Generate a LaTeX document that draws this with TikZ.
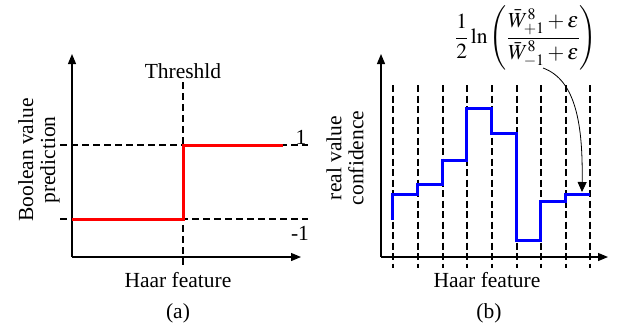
\documentclass[tikz,border=0pt]{standalone}
\usepackage{mathptmx}
\usepackage{fontspec}
\setmainfont{Liberation Serif}
\usetikzlibrary{arrows.meta}
\begin{document}
\begin{tikzpicture}[x=1pt,y=-1pt,
  font=\fontsize{21.5}{22}\selectfont,
  axis/.style={line width=1.2pt,-{Triangle[length=10pt,width=8pt]}},
  guide/.style={line width=1.1pt,dash pattern=on 7pt off 4pt},
  guideb/.style={line width=1.8pt,dash pattern=on 7pt off 3.5pt},
  redcurve/.style={red,line width=3pt},
  bluecurve/.style={blue,line width=3pt},
  lbl/.style={inner sep=0pt},
  pointer/.style={line width=0.8pt,-{Triangle[length=10pt,width=9pt]}}]
\useasboundingbox (0,0) rectangle (617,327);
% ---------- panel (a) ----------
\draw[guide] (183,82) -- (183,268);
\draw[guide] (60,145) -- (308,145);
\draw[guide] (60,219) -- (308,219);
\draw[axis] (72,257) -- (72,54);
\draw[axis] (72,257) -- (301,257);
\draw[redcurve] (72,219) -- (183,219) -- (183,145) -- (283,145);
\node[lbl] (thr) at (183,71) {Threshld};
\node[lbl] (one) at (301,137) {1};
\node[lbl] (mone) at (300,233) {-1};
\node[lbl,rotate=90,align=center] (ylabA) at (39,160) {Boolean value\\prediction};
\node[lbl] (xlabA) at (178,280) {Haar feature};
\node[lbl] (capA) at (178,313) {(a)};
% ---------- panel (b) ----------
\foreach \xx in {392.7,417.7,442.7,466.7,491.7,516.7,540.7,565.7,590}
  \draw[guideb] (\xx,85) -- (\xx,268);
\draw[axis] (381,257) -- (381,54);
\draw[axis] (381,257) -- (608,257);
\draw[bluecurve] (392.7,220) -- (392.7,194) -- (417.7,194) -- (417.7,184)
  -- (442.7,184) -- (442.7,160) -- (466.7,160) -- (466.7,108)
  -- (491.7,108) -- (491.7,133) -- (516.7,133) -- (516.7,240)
  -- (540.7,240) -- (540.7,201) -- (565.7,201) -- (565.7,194) -- (590,194);
\node[lbl,rotate=90,align=center] (ylabB) at (345,158) {real value\\confidence};
\node[lbl] (xlabB) at (487,280) {Haar feature};
\node[lbl] (capB) at (489,313) {(b)};
\node[lbl] (formula) at (526,38)
  {$\displaystyle \frac{1}{2}\ln\left(\frac{\bar{W}^{8}_{+1}+\varepsilon}{\bar{W}^{8}_{-1}+\varepsilon}\right)$};
\coordinate (pstart) at (543,68);
\coordinate (pend) at (582,192);
\draw[pointer] (pstart) .. controls (576,80) and (583,125) .. (pend);
\end{tikzpicture}
\end{document}
